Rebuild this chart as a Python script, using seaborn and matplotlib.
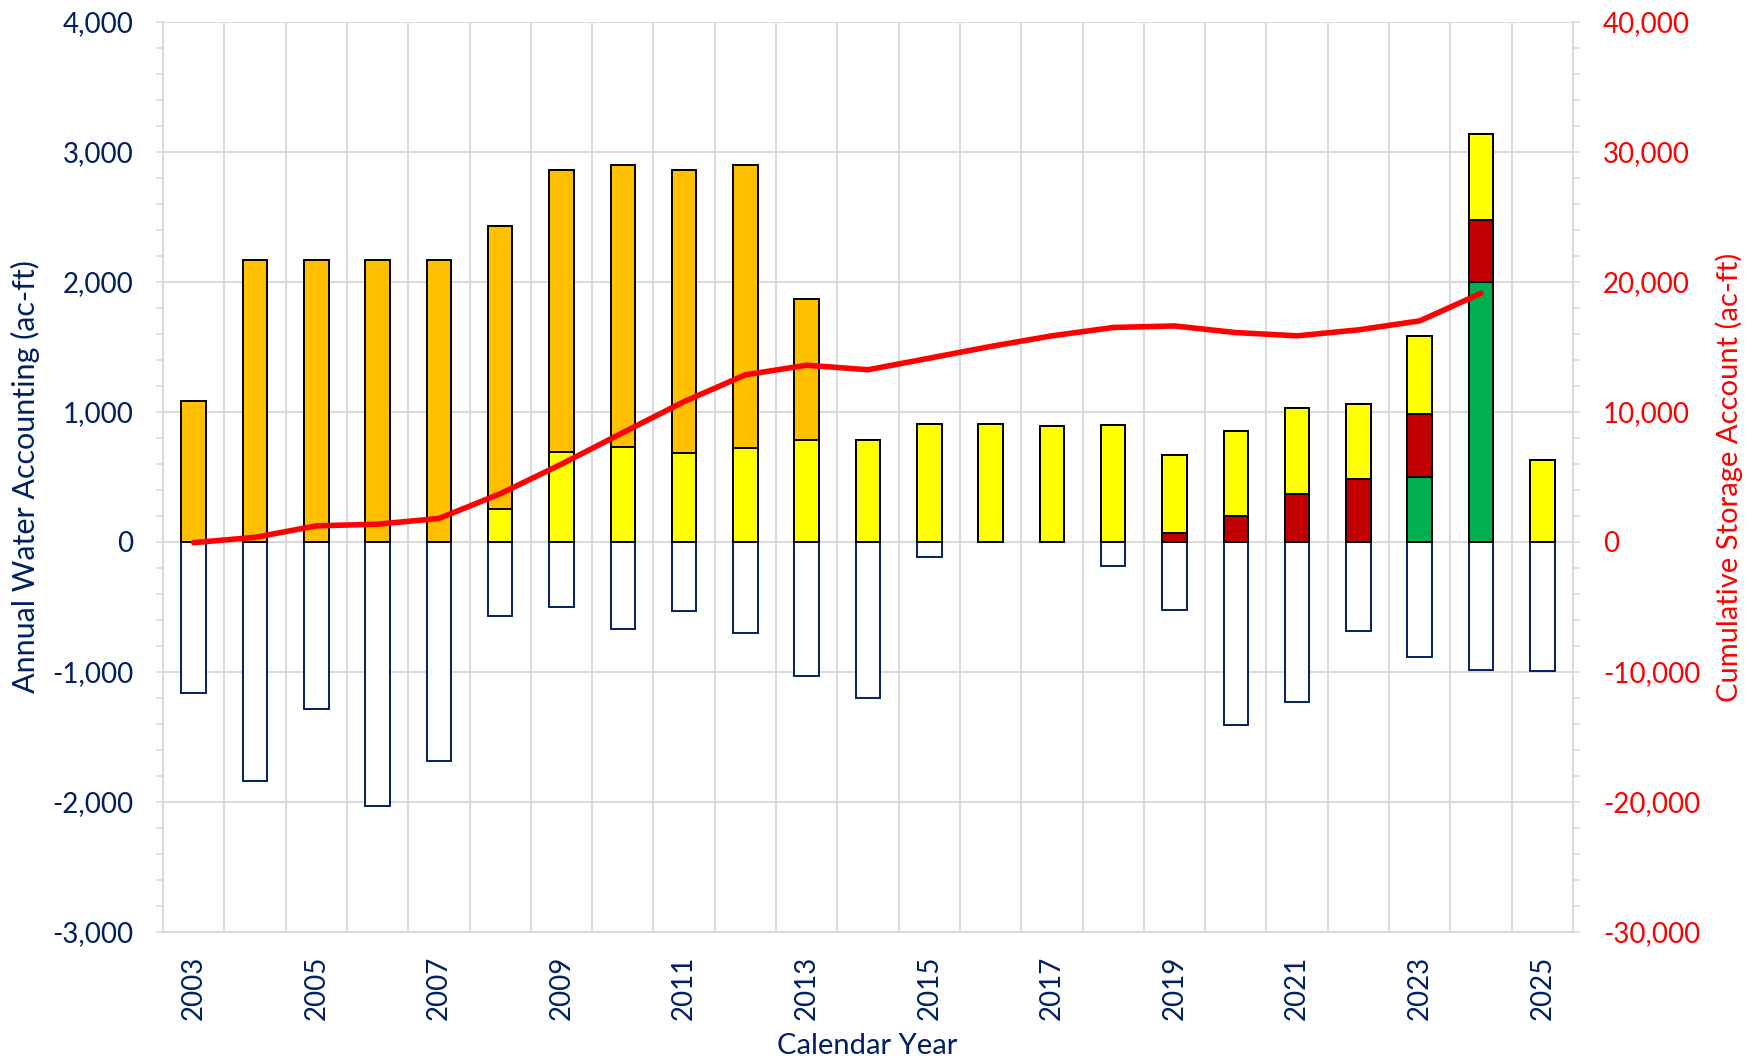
import numpy as np
import pandas as pd
import matplotlib
matplotlib.use('Agg')
import matplotlib.pyplot as plt
from matplotlib.ticker import MultipleLocator, FuncFormatter
import seaborn as sns

# ---------------- data ----------------
years = list(range(2003, 2026))
orange = [1085, 2173, 2173, 2173, 2173, 2175, 2175, 2175, 2175, 2175, 1090,
          0, 0, 0, 0, 0, 0, 0, 0, 0, 0, 0, 0]
yellow = [0, 0, 0, 0, 0, 255, 690, 728, 684, 723, 783, 788, 910, 910, 893,
          898, 607, 652, 657, 578, 604, 660, 627]
red = [0, 0, 0, 0, 0, 0, 0, 0, 0, 0, 0, 0, 0, 0, 0, 0,
       66, 200, 371, 483, 482, 478, 0]
green = [0] * 20 + [500, 2000, 0]
negative = [-1160, -1836, -1281, -2028, -1684, -570, -503, -670, -531, -698,
            -1030, -1199, -116, 0, 0, -187, -526, -1410, -1227, -685, -886,
            -983, -996]
line_years = list(range(2003, 2025))
cumulative = [-50, 360, 1240, 1370, 1810, 3710, 5990, 8410, 10800, 12860,
              13600, 13250, 14140, 15040, 15860, 16500, 16620, 16110, 15860,
              16320, 17010, 19130]
tick_years = [str(y) for y in years[::2]]

# ---------------- style ----------------
sns.set_style('white')
plt.rcParams['font.family'] = ['Lato', 'DejaVu Sans']
NAVY = '#002060'
GRID = '#D9D9D9'
RED_LINE = '#FF0000'

W, H = 1748, 1062
fig = plt.figure(figsize=(W / 100, H / 100), dpi=100)
L, R, T, B = 163, 1573, 22, 932
ax = fig.add_axes([L / W, 1 - B / H, (R - L) / W, (B - T) / H])
ax.set_axisbelow(True)

df = pd.DataFrame({'year': years, 'orange': orange, 'yellow': yellow,
                   'red': red, 'green': green, 'negative': negative})
df['lvl_green'] = df['green']
df['lvl_red'] = df['lvl_green'] + df['red']
df['lvl_yellow'] = df['lvl_red'] + df['yellow']
df['lvl_orange'] = df['lvl_yellow'] + df['orange']

common = dict(width=0.4, saturation=1, errorbar=None, ax=ax)
sns.barplot(data=df, x='year', y='negative', color='white', edgecolor=NAVY,
            linewidth=1.4, **common)
for col, c in [('lvl_orange', '#FFC000'), ('lvl_yellow', '#FFFF00'),
               ('lvl_red', '#C00000'), ('lvl_green', '#00B050')]:
    sns.barplot(data=df, x='year', y=col, color=c, edgecolor='black',
                linewidth=1.4, **common)

# secondary axis line
ax2 = ax.twinx()
line_pos = [years.index(y) for y in line_years]
sns.lineplot(x=line_pos, y=cumulative, ax=ax2, color=RED_LINE, linewidth=4.0,
             legend=False)
ax2.lines[-1].set_solid_capstyle('round')
ax2.lines[-1].set_solid_joinstyle('round')

# ---------------- axes formatting ----------------
fmt = FuncFormatter(lambda v, p: f'{int(round(v)):,}')

ax.set_xlim(-0.5, len(years) - 0.5)
ax2.set_xlim(-0.5, len(years) - 0.5)
ax.set_ylim(-3000, 4000)
ax.yaxis.set_major_locator(MultipleLocator(1000))
ax.yaxis.set_minor_locator(MultipleLocator(200))
ax.yaxis.set_major_formatter(fmt)
ax.set_xticks(range(0, len(years), 2))
ax.set_xticklabels(tick_years, rotation=90)
ax.set_xticks(np.arange(-0.5, len(years), 1), minor=True)

ax.xaxis.grid(False, which='major')
ax.xaxis.grid(True, which='minor', color=GRID, linewidth=1.4)
ax.yaxis.grid(True, which='major', color=GRID, linewidth=1.4)
ax.yaxis.grid(False, which='minor')

ax.tick_params(axis='y', which='both', direction='out', length=5, width=1.2,
               color=GRID, labelcolor=NAVY, labelsize=20, pad=16.5, left=True)
ax.tick_params(axis='x', which='both', length=0, pad=17, labelcolor=NAVY,
               labelsize=20, bottom=True)

ax2.set_ylim(-30000, 40000)
ax2.yaxis.set_major_locator(MultipleLocator(10000))
ax2.yaxis.set_minor_locator(MultipleLocator(2000))
ax2.yaxis.set_major_formatter(fmt)
ax2.tick_params(axis='y', which='both', direction='out', length=5, width=1.2,
                color=GRID, labelcolor=RED_LINE, labelsize=20, pad=16.5,
                right=True)
ax2.grid(False)

for s in ['left', 'bottom']:
    ax.spines[s].set_color(GRID)
    ax.spines[s].set_linewidth(1.4)
for s in ['top', 'right']:
    ax.spines[s].set_visible(False)
for s in ['left', 'top', 'bottom']:
    ax2.spines[s].set_visible(False)
ax2.spines['right'].set_color(GRID)
ax2.spines['right'].set_linewidth(1.4)

ax.set_ylabel('Annual Water Accounting (ac-ft)', color=NAVY, fontsize=22)
ax.yaxis.set_label_coords((25 - L) / (R - L), 0.5)
ax.yaxis.label.set_va('center')

ax2.set_ylabel('Cumulative Storage Account (ac-ft)', color=RED_LINE,
               fontsize=21, rotation=90)
ax2.yaxis.set_label_coords((1729 - L) / (R - L), 0.5)
ax2.yaxis.label.set_va('center')

ax.set_xlabel('Calendar Year', color=NAVY, fontsize=21)
ax.xaxis.set_label_coords((867 - L) / (R - L), (B - 1046) / (B - T))
ax.xaxis.label.set_va('center')

fig.savefig('out.png', dpi=100)
